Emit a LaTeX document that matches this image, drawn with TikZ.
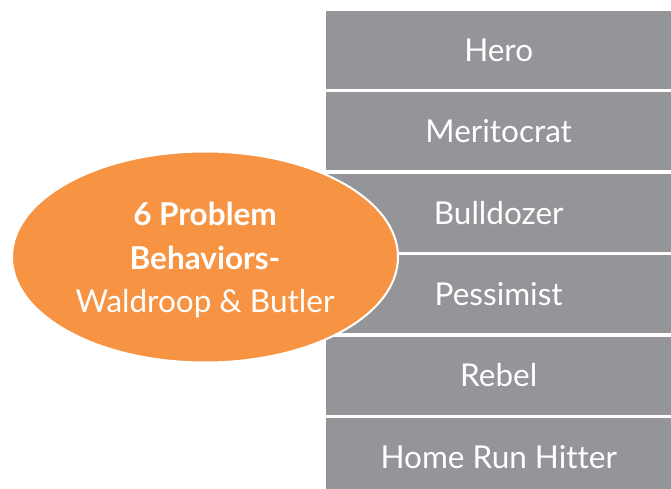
\documentclass[tikz,border=0pt]{standalone}
\usepackage{fontspec}
\setmainfont[Ligatures=NoCommon]{Lato}
\usetikzlibrary{shapes.geometric}
\definecolor{boxgray}{HTML}{939598}
\definecolor{orng}{HTML}{F79443}
\tikzset{
  itembox/.style={fill=boxgray, draw=none, minimum width=345pt, minimum height=78pt, inner sep=0pt, anchor=north west, text=white, font=\fontsize{31.5}{36}\selectfont},
  bigoval/.style={ellipse, fill=orng, draw=white, line width=2pt, minimum width=386pt, minimum height=211pt, inner sep=0pt, text=white, align=center, font=\fontsize{31.5}{43.5}\selectfont}
}
\begin{document}
\begin{tikzpicture}[x=1pt,y=1pt]
\fill[white] (0,0) rectangle (671,488);
\useasboundingbox (0,0) rectangle (671,488);
\begin{scope}
\clip (0,0) rectangle (671,488);
\node[itembox] (b1) at (326,477) {Hero};
\node[itembox] (b2) at (326,395.7) {Meritocrat};
\node[itembox] (b3) at (326,314.4) {Bulldozer};
\node[itembox] (b4) at (326,233) {Pessimist};
\node[itembox] (b5) at (326,151.7) {Rebel};
\node[itembox] (b6) at (326,70.4) {Home Run Hitter};
\node[bigoval] (e) at (205,231) {};
\node[text=white, align=center, font=\fontsize{31.5}{43.5}\selectfont] (t) at (205,228) {\textbf{6 Problem}\\\textbf{Behaviors-}\\Waldroop \& Butler};
\end{scope}
\end{tikzpicture}
\end{document}
